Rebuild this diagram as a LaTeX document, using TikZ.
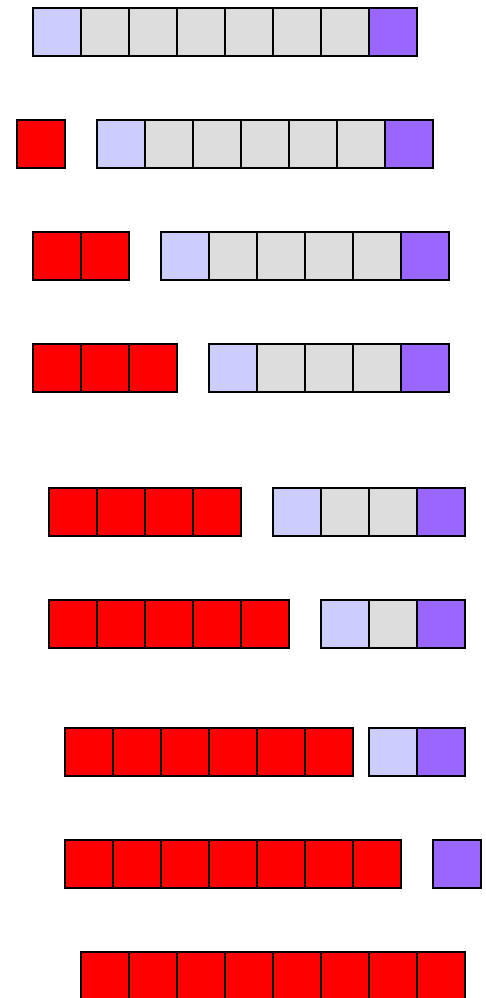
\documentclass[tikz,border=0pt]{standalone}
\usepackage{tikz}
\definecolor{redc}{HTML}{FF0000}
\definecolor{grayc}{HTML}{DDDDDD}
\definecolor{bluec}{HTML}{CCCCFF}
\definecolor{purpc}{HTML}{9966FF}
\tikzset{sq/.style={draw=black,line width=2pt,minimum size=48pt,inner sep=0pt,outer sep=0pt,shape=rectangle}}
\begin{document}
\begin{tikzpicture}[x=1pt,y=-1pt]
\useasboundingbox (0,0) rectangle (485,998);
\fill[white] (0,0) rectangle (485,998);
\foreach \r/\y/\rx/\nr/\bx/\nb in {1/8/0/0/33/8, 2/120/17/1/97/7, 3/232/33/2/161/6, 4/344/33/3/209/5, 5/488/49/4/273/4, 6/600/49/5/321/3, 7/728/65/6/369/2, 8/840/65/7/433/1, 9/952/81/8/0/0}{
  \ifnum\nr>0
    \foreach \i in {1,...,\nr}{
      \node[sq,fill=redc] (r\r red\i) at ({\rx+48*\i-24},{\y+24}) {};
    }
  \fi
  \ifnum\nb>0
    \foreach \i in {1,...,\nb}{
      \ifnum\i=\nb \def\col{purpc}\else\ifnum\i=1 \def\col{bluec}\else\def\col{grayc}\fi\fi
      \node[sq,fill=\col] (r\r b\i) at ({\bx+48*\i-24},{\y+24}) {};
    }
  \fi
}
\end{tikzpicture}
\end{document}
